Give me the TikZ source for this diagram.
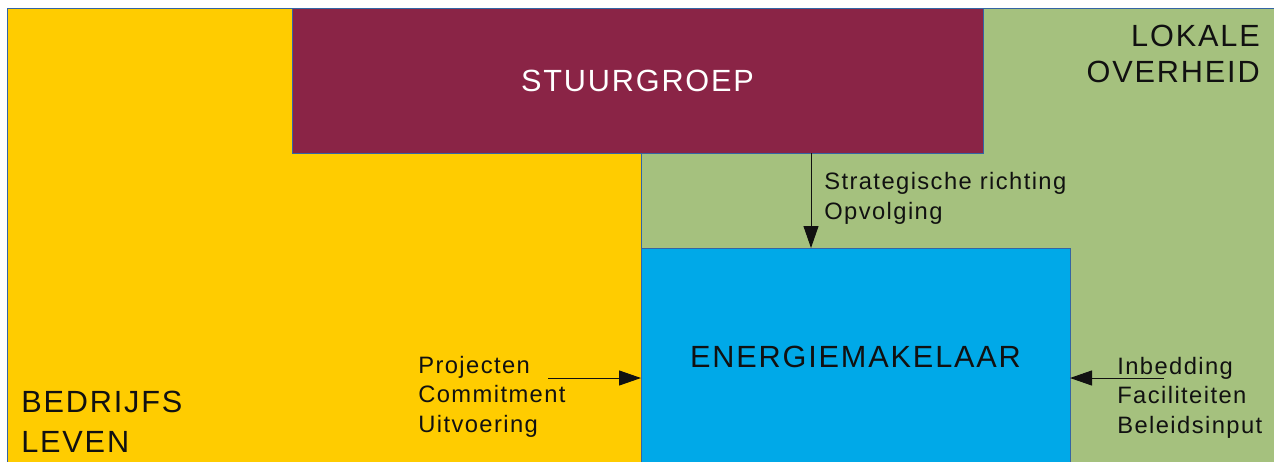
\documentclass[tikz,border=0pt]{standalone}
\usepackage{fontspec}
\setmainfont{Liberation Sans}
\newfontfamily\bigfont[LetterSpace=6]{Liberation Sans}
\newfontfamily\smallfont[LetterSpace=6]{Liberation Sans}
\usetikzlibrary{arrows.meta}
\definecolor{bedrijf}{HTML}{FFCC00}
\definecolor{stuur}{HTML}{8A2446}
\definecolor{overheid}{HTML}{A5C17E}
\definecolor{makelaar}{HTML}{00A9E8}
\definecolor{rand}{HTML}{3465A4}
\definecolor{inkt}{HTML}{111111}
\tikzset{
  zone/.style={draw=rand, line width=0.6pt, anchor=north west, inner sep=0pt, outer sep=0pt},
  bigtxt/.style={font=\bigfont\fontsize{23}{27}\selectfont, text=inkt, inner sep=0pt},
  smalltxt/.style={font=\smallfont\fontsize{17.8}{22.1}\selectfont, text=inkt, inner sep=0pt, align=left, anchor=base west},
  flow/.style={draw=inkt, line width=0.75pt, -{Triangle[length=16.5pt,width=11.25pt]}}
}
\begin{document}
\begin{tikzpicture}[x=0.75pt,y=-0.75pt]
\useasboundingbox (0,0) rectangle (1274,461);
\fill[white] (0,0) rectangle (1274,461);
\clip (0,0) rectangle (1274,461);
% the three areas and the broker in the middle
\node[zone, fill=overheid, minimum width=660*0.75pt, minimum height=470*0.75pt] (ov) at (641,8) {};
\node[zone, fill=bedrijf, minimum width=634*0.75pt, minimum height=470*0.75pt] (bl) at (7,8) {};
\node[zone, fill=stuur, minimum width=691*0.75pt, minimum height=145*0.75pt,
      bigtxt, text=white] (sg) at (292,8) {STUURGROEP};
\node[zone, fill=makelaar, minimum width=429*0.75pt, minimum height=218*0.75pt,
      bigtxt] (em) at (641,248) {ENERGIEMAKELAAR};
% area titles (anchored on the baseline of their last line)
\node[bigtxt, align=right, anchor=base east] (ovt) at (1260,82) {LOKALE\\OVERHEID};
\node[bigtxt, align=left, anchor=base west, font=\bigfont\fontsize{23}{29.5}\selectfont] (blt) at (21,452) {BEDRIJFS\\LEVEN};
% flow labels
\node[smalltxt] (sl) at (824,219) {Strategische richting\\Opvolging};
\node[smalltxt] (pl) at (418,432) {Projecten\\Commitment\\Uitvoering};
\node[smalltxt] (il) at (1117,433) {Inbedding\\Faciliteiten\\Beleidsinput};
% connectors
\coordinate (vx) at (811,200);
\coordinate (lp) at (548,378);
\coordinate (rp) at (1164,378);
\draw[flow] (sg.south -| vx) -- (em.north -| vx);
\draw[flow] (lp) -- (lp -| em.west);
\draw[flow] (rp) -- (rp -| em.east);
\end{tikzpicture}
\end{document}
